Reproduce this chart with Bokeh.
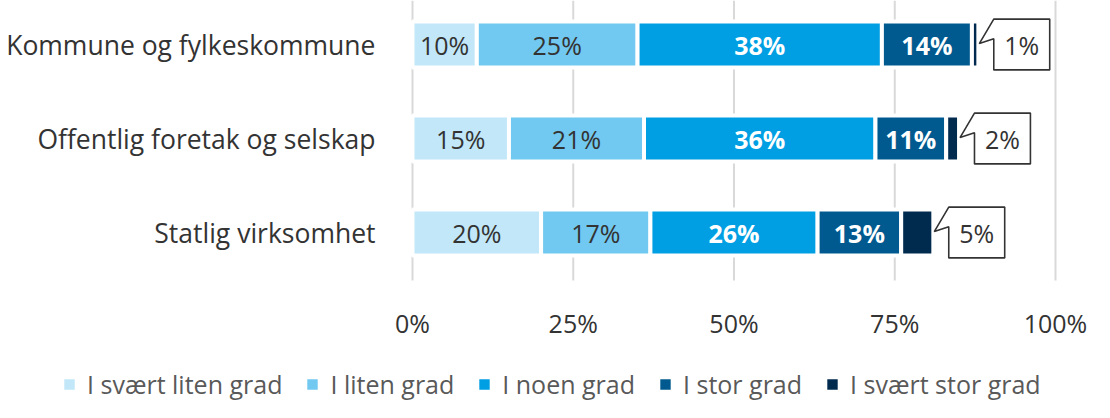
import numpy as np
from bokeh.plotting import figure
from bokeh.models import ColumnDataSource, Range1d, Legend, LegendItem
from bokeh.core.properties import value
from bokeh.embed import file_html
from bokeh.resources import INLINE

# ---------------- data ----------------
categories = ["Kommune og fylkeskommune", "Offentlig foretak og selskap", "Statlig virksomhet"]
series_names = ["I svært liten grad", "I liten grad", "I noen grad", "I stor grad", "I svært stor grad"]
svaert_liten = [10, 15, 20]
liten = [25, 21, 17]
noen = [38, 36, 26]
stor = [14, 11, 13]
svaert_stor = [1, 2, 5]
x_ticks = [0, 25, 50, 75, 100]

# ---------------- style / layout ----------------
colors = ["#c1e7f8", "#71c8f0", "#009fe3", "#005a8f", "#002b4f"]
label_colors = ["#333333", "#333333", "#ffffff", "#ffffff"]
label_styles = ["normal", "normal", "bold", "bold"]
FONT = "Open Sans"
W, H = 1110, 418
PLOT_LEFT, PLOT_RIGHT = 412, 1055      # pixel span of 0%..100%
ppu = (PLOT_RIGHT - PLOT_LEFT) / 100.0
x_lo = -PLOT_LEFT / ppu
x_hi = 100 + (W - PLOT_RIGHT) / ppu

series = [svaert_liten, liten, noen, stor, svaert_stor]
n = len(categories)
ypos = [n - 1 - i for i in range(n)]

PX_PER_Y = 94.0          # pixels per category band
FIRST_CENTER_PX = 44.0   # pixel centre of the top category
GRID_BOTTOM_PX = 280.0
TICK_LABEL_PX = 322.0
Y_TOP = ypos[0] + FIRST_CENTER_PX / PX_PER_Y
Y_BOTTOM = Y_TOP - H / PX_PER_Y


def y_at(px):
    return Y_TOP - px / PX_PER_Y


p = figure(width=W, height=H, min_border_left=0, min_border_right=0,
           min_border_top=0, min_border_bottom=0,
           x_axis_location=None, y_axis_location=None,
           x_range=Range1d(x_lo, x_hi), y_range=Range1d(Y_BOTTOM, Y_TOP),
           output_backend="svg", toolbar_location=None)
p.outline_line_color = None
p.background_fill_color = "white"
p.xgrid.visible = False
p.ygrid.visible = False

# vertical grid lines at the tick positions
nt = len(x_ticks)
p.segment(x0=x_ticks, y0=[y_at(GRID_BOTTOM_PX)] * nt, x1=x_ticks, y1=[Y_TOP] * nt,
          line_color="#d9d9d9", line_width=2)

# x tick labels
tsrc = ColumnDataSource(dict(x=x_ticks, y=[y_at(TICK_LABEL_PX)] * nt,
                             label=[f"{t}%" for t in x_ticks]))
p.text(x="x", y="y", text="label", source=tsrc, text_align="center",
       text_baseline="middle", text_font=value(FONT), text_font_size="25px",
       text_color="#333333")

# category labels (left of the 0% line)
lsrc = ColumnDataSource(dict(x=[0] * n, y=ypos, label=categories))
p.text(x="x", y="y", text="label", source=lsrc, x_offset=-37, text_align="right",
       text_baseline="middle", text_font=value(FONT), text_font_size="26.5px",
       text_color="#333333")

left = np.zeros(n)
renderers = []
for i, (name, vals) in enumerate(zip(series_names, series)):
    v = np.array(vals, dtype=float)
    src = ColumnDataSource(dict(y=ypos, left=left, right=left + v, mid=left + v / 2,
                                label=[f"{x:g}%" for x in v]))
    r = p.hbar(y="y", left="left", right="right", height=0.49, fill_color=colors[i],
               line_color="white", line_width=4, source=src)
    renderers.append(r)
    if i < len(series) - 1:
        p.text(x="mid", y="y", text="label", source=src, text_align="center",
               text_baseline="middle", text_font=value(FONT), text_font_size="25px",
               text_color=label_colors[i], text_font_style=label_styles[i])
    left = left + v

# callouts for the last series
totals = left
last = np.array(svaert_stor, dtype=float)
gap, box_w, half_h, tip_gap = 2.4, 8.7, 0.27, 0.15
xs, ys = [], []
for t, y in zip(totals, ypos):
    x0 = t + gap
    x1 = x0 + box_w
    xs.append([x0, x1, x1, x0, x0, t + tip_gap, x0])
    ys.append([y + half_h, y + half_h, y - half_h, y - half_h, y + 0.06, y + 0.01, y + half_h])
p.patches(xs=xs, ys=ys, fill_color="white", line_color="#333333", line_width=1.6)
csrc = ColumnDataSource(dict(x=totals + gap + box_w / 2, y=ypos,
                             label=[f"{x:g}%" for x in last]))
p.text(x="x", y="y", text="label", source=csrc, text_align="center",
       text_baseline="middle", text_font=value(FONT), text_font_size="25px",
       text_color="#333333")

legend = Legend(items=[LegendItem(label=nm, renderers=[r]) for nm, r in zip(series_names, renderers)],
                orientation="horizontal", location=(60, 17),
                glyph_width=18, glyph_height=18, label_standoff=9, spacing=21,
                padding=0, margin=0, border_line_color=None, background_fill_alpha=0,
                label_text_font=FONT, label_text_font_size="25px",
                label_text_color="#595959")
p.add_layout(legend)

open("out.html", "w").write(file_html(p, INLINE))
